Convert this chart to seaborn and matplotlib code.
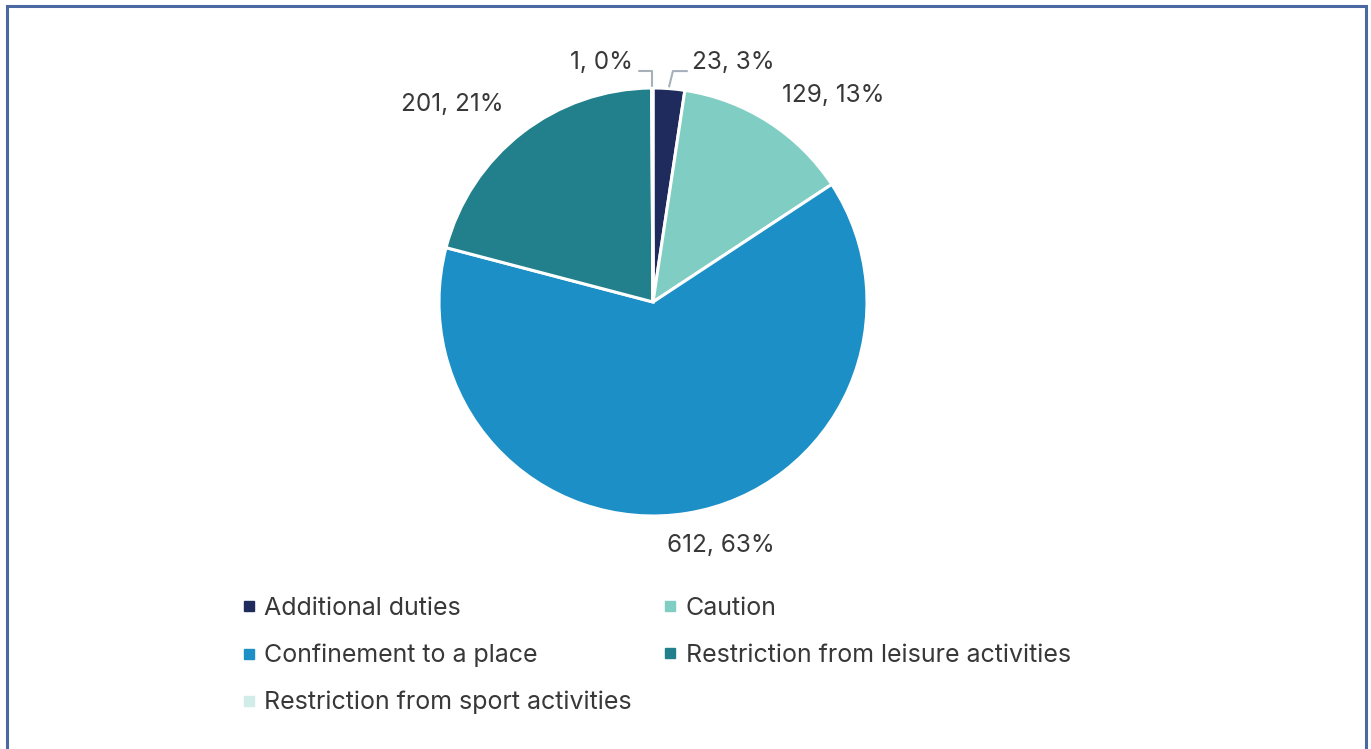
import numpy as np
import matplotlib
matplotlib.use("Agg")
import matplotlib.pyplot as plt
import seaborn as sns
from matplotlib.patches import Rectangle
from matplotlib.lines import Line2D

sns.set_theme(style="white")
plt.rcParams["font.family"] = ["Inter", "DejaVu Sans"]

categories = [
    "Additional duties",
    "Caution",
    "Confinement to a place",
    "Restriction from leisure activities",
    "Restriction from sport activities",
]
counts = [23, 129, 612, 201, 1]
percents = [3, 13, 63, 21, 0]
colors = ["#1f2b5c", "#80cdc3", "#1b8fc6", "#21808b", "#d2ece9"]

text_color = "#383838"
W, H = 1371, 749
fig = plt.figure(figsize=(W / 100, H / 100), dpi=100)

# outer frame
fig.patches.append(Rectangle((7 / W, -0.01), (1366 - 7) / W, 1 - 6 / H + 0.01,
                             transform=fig.transFigure, fill=False,
                             edgecolor="#4a68a2", linewidth=2.2))

cx, cy, r = 653, 302, 214
ax = fig.add_axes([(cx - r) / W, (H - cy - r) / H, 2 * r / W, 2 * r / H])
wedges, _ = ax.pie(counts, colors=colors, startangle=90, counterclock=False,
                   radius=1.0, wedgeprops=dict(edgecolor="white", linewidth=2.2))
ax.set_xlim(-1, 1)
ax.set_ylim(-1, 1)
ax.set_aspect("equal")
ax.axis("off")

labels = [f"{c}, {p}%" for c, p in zip(counts, percents)]

# label anchor positions in pie radius units
label_pos = {
    0: (0.182, 1.121, "left"),
    1: (0.841, 0.963, "center"),
    2: (0.318, -1.136, "center"),
    3: (-0.939, 0.921, "center"),
    4: (-0.093, 1.121, "right"),
}
for i, (x, y, ha) in label_pos.items():
    ax.text(x, y, labels[i], ha=ha, va="center", fontsize=17.5,
            color=text_color, clip_on=False)

# leader lines for the two thin slices
lead = "#a7b0ba"
elbow_y = 1.079
for i, tx in [(0, 0.159), (4, -0.065)]:
    w = wedges[i]
    mid = np.deg2rad((w.theta1 + w.theta2) / 2)
    x0, y0 = 1.01 * np.cos(mid), 1.01 * np.sin(mid)
    if i == 0:
        xs = [x0, 0.093, tx]
        ys = [y0, elbow_y, elbow_y]
    else:
        xs = [x0, x0, tx]
        ys = [y0, elbow_y, elbow_y]
    ax.add_line(Line2D(xs, ys, color=lead, linewidth=1.5, clip_on=False))

handles = [Line2D([], [], marker="s", linestyle="none", markersize=6.5,
                  markerfacecolor=c, markeredgecolor=c) for c in colors]
# legend reads row by row across two columns
order = [0, 2, 4, 1, 3]
leg = fig.legend([handles[i] for i in order], [categories[i] for i in order],
                 loc="upper left", ncol=2,
                 bbox_to_anchor=(242 / W, 1 - 597 / H), frameon=False,
                 fontsize=18, handlelength=0.55, handletextpad=0.35,
                 columnspacing=1.25, labelspacing=0.95, borderaxespad=0,
                 borderpad=0)
for t in leg.get_texts():
    t.set_color(text_color)

fig.savefig("out.png", dpi=100, facecolor="white")
